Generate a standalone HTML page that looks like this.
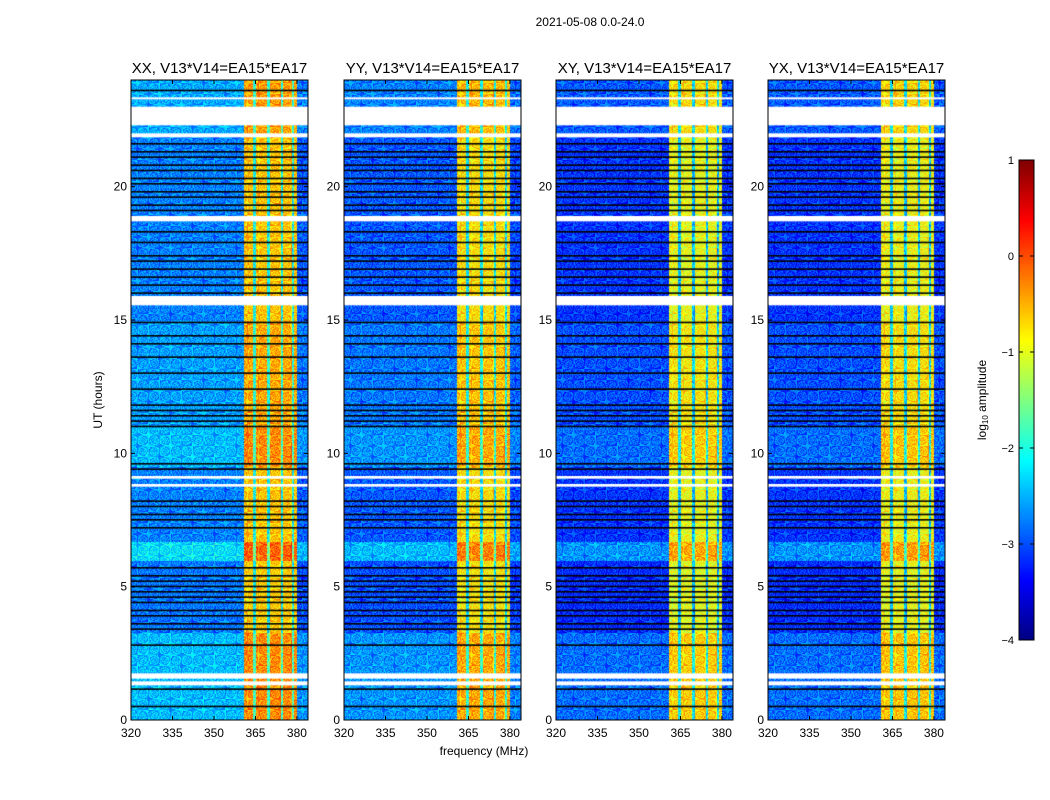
<!DOCTYPE html>
<html><head><meta charset="utf-8"><style>
body{margin:0;background:#fff;width:1050px;height:800px;overflow:hidden;position:relative;font-family:"Liberation Sans",sans-serif}
canvas{position:absolute}
svg{position:absolute;left:0;top:0}
</style></head><body>
<canvas id="c0" style="left:131px;top:80px" width="177" height="640"></canvas>
<canvas id="c1" style="left:344px;top:80px" width="177" height="640"></canvas>
<canvas id="c2" style="left:556px;top:80px" width="177" height="640"></canvas>
<canvas id="c3" style="left:768px;top:80px" width="177" height="640"></canvas>
<canvas id="cb" style="left:1019px;top:160px" width="15" height="480"></canvas>
<svg id="ov" width="1050" height="800">
<text x="590" y="26" font-size="12" text-anchor="middle">2021-05-08 0.0-24.0</text>
<text x="484" y="755" font-size="12" text-anchor="middle">frequency (MHz)</text>
<text transform="translate(102,400) rotate(-90)" font-size="12" text-anchor="middle">UT (hours)</text>
<text transform="translate(986,400) rotate(-90)" font-size="12" text-anchor="middle">log<tspan font-size="8" dy="2">10</tspan><tspan dy="-2"> amplitude</tspan></text>
</svg>
<script>
const titles=["XX, V13*V14=EA15*EA17","YY, V13*V14=EA15*EA17","XY, V13*V14=EA15*EA17","YX, V13*V14=EA15*EA17"];
const panelX=[131,344,556,768];
const xTicks=[320,335,350,365,380];
const yTicks=[0,5,10,15,20];
const cbTicks=[1,0,-1,-2,-3,-4];
const segXX=[[320,360.5,-2.6],[360.5,384,-0.45],[380,384,-2.8]];
const segYY=[[320,360.5,-2.8],[360.5,384,-0.6],[380,384,-2.9]];
const segXY=[[320,360.5,-3.0],[360.5,384,-0.8],[380,384,-3.0]];
const segYX=[[320,360.5,-3.0],[360.5,384,-0.75],[380,384,-3.0]];
const segs=[segXX,segYY,segXY,segYX];
const dipFreqs=[364.5,369.5,374.5,378.5];
const timeOffsets=[[0,3.3,0.15],[3.3,6,-0.2],[6,6.7,0.35],[6.7,9.5,-0.15],[9.5,11,0.15],[11,15,0],[15,22,-0.15],[22,24,0.05]];
const gaps=[[1.3,1.45],[1.55,1.75],[8.75,8.85],[9.05,9.15],[15.55,15.9],[18.7,18.9],[21.85,22.0],[22.3,23.0],[23.3,23.35]];
const blackLines=[0.5,1.15,2.8,3.4,3.6,3.9,4.1,4.4,4.6,4.8,5.0,5.2,5.4,5.7,7.2,7.5,7.7,8.0,8.2,9.4,9.6,11.0,11.2,11.4,11.6,11.8,12.4,13.0,13.6,14.1,14.4,14.9,16.0,16.3,16.6,16.9,17.2,17.4,17.9,18.3,19.1,19.3,19.6,19.8,20.1,20.3,20.6,20.8,21.1,21.3,21.6,23.6];

const fMin=320,fMax=384,tMax=24,W=177,H=640;
const fx=f=>(f-fMin)/(fMax-fMin)*W;
const ty=t=>H-t/tMax*H;
function jet(v){let t=(v+4)/5;t=Math.max(0,Math.min(1,t));const c=x=>Math.round(255*Math.max(0,Math.min(1,x)));
return [c(1.5-Math.abs(4*t-3)),c(1.5-Math.abs(4*t-2)),c(1.5-Math.abs(4*t-1))];}
function levelAt(p,f){let l=-3;for(const s of segs[p]) if(f>=s[0]&&f<s[1]) l=s[2];
for(const d of dipFreqs) if(Math.abs(f-d)<0.4) l-=1.5; return l;}
function offAt(t){for(const o of timeOffsets) if(t>=o[0]&&t<o[1]) return o[2];return 0;}
for(let p=0;p<4;p++){
 const ctx=document.getElementById('c'+p).getContext('2d');
 const img=ctx.createImageData(W,H);
 for(let y=0;y<H;y++){const t=(H-y)/H*tMax;const off=offAt(t);
  for(let x=0;x<W;x++){const f=fMin+x/W*(fMax-fMin);
   const tex=(((x*7+y*13+(x*y)%11)%9)-4)*0.1;
   const [r,g,b]=jet(levelAt(p,f)+off+tex);const i=(y*W+x)*4;
   img.data[i]=r;img.data[i+1]=g;img.data[i+2]=b;img.data[i+3]=255;}}
 ctx.putImageData(img,0,0);
 ctx.fillStyle='#000';
 for(const b of blackLines){ctx.fillRect(0,ty(b)-1,W,1.6);}
 ctx.fillStyle='#fff';
 for(const g of gaps){ctx.fillRect(0,ty(g[1]),W,Math.max(2,ty(g[0])-ty(g[1])));}
}
{const ctx=document.getElementById('cb').getContext('2d');
 for(let y=0;y<480;y++){const v=1-y/480*5;const [r,g,b]=jet(v);ctx.fillStyle=`rgb(${r},${g},${b})`;ctx.fillRect(0,y,15,1);}}
const svg=document.getElementById('ov');const NS='http://www.w3.org/2000/svg';
function mk(tag,attrs){const e=document.createElementNS(NS,tag);for(const k in attrs)e.setAttribute(k,attrs[k]);svg.appendChild(e);return e;}
for(let p=0;p<4;p++){
 const x0=panelX[p],y0=80;
 const fr=mk('rect',{x:x0,y:y0,width:W,height:H,fill:'none',stroke:'#000','stroke-width':1});
 
 
 const tt=mk('text',{x:x0+W/2,y:73,'font-size':15,'text-anchor':'middle'});tt.textContent=titles[p];
 
 
 for(const v of xTicks){const x=x0+fx(v);
  mk('line',{x1:x,x2:x,y1:y0+H,y2:y0+H-4,stroke:'#000'});mk('line',{x1:x,x2:x,y1:y0,y2:y0+4,stroke:'#000'});
  const l=mk('text',{x:x,y:737,'font-size':12,'text-anchor':'middle'});l.textContent=v;
  
  }
 for(const v of yTicks){const y=y0+ty(v);
  mk('line',{x1:x0,x2:x0+4,y1:y,y2:y,stroke:'#000'});mk('line',{x1:x0+W,x2:x0+W-4,y1:y,y2:y,stroke:'#000'});
  const l=mk('text',{x:x0-4,y:y+4,'font-size':12,'text-anchor':'end'});l.textContent=v;
  
  }
}
mk('rect',{x:1019,y:160,width:15,height:480,fill:'none',stroke:'#000'});
for(const v of cbTicks){const y=160+(1-v)/5*480;
 mk('line',{x1:1019,x2:1023,y1:y,y2:y,stroke:'#000'});mk('line',{x1:1030,x2:1034,y1:y,y2:y,stroke:'#000'});
 const l=mk('text',{x:1014,y:y+4,'font-size':11,'text-anchor':'end'});l.textContent=v<0?'\u2212'+(-v):v;
 
 }
</script>
</body></html>
